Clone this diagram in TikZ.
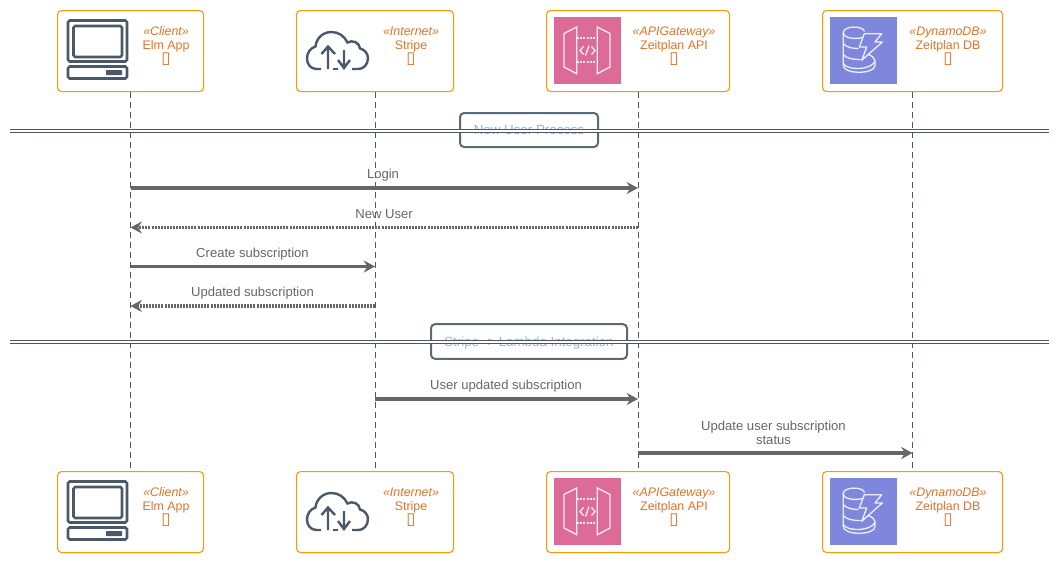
\documentclass[tikz,border=0pt]{standalone}
\usepackage{fontspec}
\setmainfont{Liberation Sans}
\newfontfamily\symfont{DejaVu Sans}
\usetikzlibrary{arrows.meta, positioning, calc}

\definecolor{boxorange}{HTML}{FF9900}
\definecolor{textorange}{HTML}{E07428}
\definecolor{iconslate}{HTML}{4A5868}
\definecolor{msggray}{HTML}{666666}
\definecolor{dividertext}{HTML}{A3B1C4}
\definecolor{gatewaypink}{HTML}{DD6B98}
\definecolor{dynamoblue}{HTML}{7F87DD}

\tikzset{
    icon/.style={draw=iconslate, line width=1.9pt, rounded corners=1.2pt},
    cloudline/.style={draw=iconslate, line width=1.8pt},
    iconwhite/.style={draw=white, line width=1pt, opacity=0.85},
    computericon/.pic={
        \draw[icon] (11,10.5) rectangle (70,51.5);
        \draw[icon] (16.5,16) rectangle (65,47);
        \draw[icon] (11,56.5) rectangle (70,68.5);
        \fill[iconslate, rounded corners=0.5] (49,60) rectangle (65,65);
    },
    cloudicon/.pic={
        \draw[cloudline] (25,59) -- (20.5,59) .. controls (14.5,59) and (11,54) .. (11,48.5)
            .. controls (11,42.5) and (14.5,38) .. (19.5,36.5) .. controls (20.5,27.5) and (27.5,22) .. (35.5,22)
            .. controls (42.5,22) and (48.5,26) .. (51.5,32.5) .. controls (56.5,29.5) and (63.5,32.5) .. (64,38.5)
            .. controls (68.5,39.5) and (72,43.5) .. (72,48) .. controls (72,54.5) and (67.5,59) .. (62.5,59) -- (56,59);
        \draw[cloudline] (37,59) -- (42,59);
        \draw[cloudline] (32,59) -- (32,36.5) (25.5,44) -- (32,36.5) -- (39,44);
        \draw[cloudline] (48,40) -- (48,58) (42,50) -- (48,58) -- (54,50);
    },
    gatewayicon/.pic={
        \fill[gatewaypink] (8,7) rectangle (75,74);
        \draw[iconwhite] (18,23.5) -- (30.7,17) -- (30.7,63.7) -- (18,57) -- cycle;
        \draw[iconwhite] (51.3,17) -- (64,23.5) -- (64,57) -- (51.3,63.7) -- cycle;
        \draw[iconwhite, dash pattern=on 1.5pt off 1pt] (30.7,28) -- (51.3,28) (30.7,52) -- (51.3,52);
        \draw[iconwhite] (37.5,36.5) -- (34,40.5) -- (37.5,44.5) (43,35.5) -- (39.5,45.5) (45.5,36.5) -- (49,40.5) -- (45.5,44.5);
    },
    dynamoicon/.pic={
        \fill[dynamoblue] (8,7) rectangle (75,74);
        \draw[iconwhite] (21.3,22.5) .. controls (21.3,15.5) and (41.5,15.5) .. (42.5,21.5)
            (21.3,22.5) .. controls (21.3,28.5) and (33.5,29.5) .. (40.5,27.5);
        \draw[iconwhite] (21.3,22.5) -- (21.3,55.5) (21.3,33.5) .. controls (24.5,37.5) and (30.5,38.5) .. (36.5,38.5)
            (21.3,44.5) .. controls (24.5,48.5) and (30.5,49.5) .. (38.5,49.5);
        \draw[iconwhite] (21.3,55.5) .. controls (21.3,64.5) and (53,64.5) .. (53,55.5) -- (53,50.5) .. controls (52.5,47.5) and (49.5,45.5) .. (46.5,44.5);
        \draw[iconwhite] (21.3,53.5) .. controls (24.5,60.5) and (48.5,60.5) .. (53,51.5);
        \draw[iconwhite, line join=round] (42.3,23.7) -- (59.7,23.7) -- (53,32) -- (60.3,32) -- (39.7,50.3) -- (44.7,37) -- (37.3,37) -- cycle;
    }
}

\begin{document}
\begin{tikzpicture}[x=0.75pt, y=-0.75pt,
    actor/.style={rectangle, draw=boxorange, fill=white, line width=0.8pt, rounded corners=3pt, minimum height=60.75pt},
    actor_text/.style={font=\fontsize{9.3}{10.6}\selectfont, text=textorange, align=center, inner sep=0pt},
    lifeline/.style={draw=iconslate, line width=0.6pt, dash pattern=on 4.5pt off 3pt},
    divider/.style={draw=iconslate, line width=0.75pt, double=white, double distance=1.4pt},
    divider_box/.style={rectangle, draw=iconslate!90, line width=1.5pt, rounded corners=3pt, text depth=0pt,
                        font=\fontsize{10}{11}\selectfont, text=dividertext},
    call/.style={draw=msggray, line width=2.6pt, -{Stealth[length=8.5pt, width=9pt, inset=2.8pt]}},
    reply/.style={call, dash pattern=on 1.5pt off 0.8pt},
    msg_text/.style={font=\fontsize{9.8}{10.6}\selectfont, text=msggray, align=center, inner sep=0pt}]

    \useasboundingbox (0,0) rectangle (1060,562);

    % lifelines need the boxes, so boxes first
    \foreach \name/\xpos/\wid/\txt/\kind/\title/\icon in {
        client/57/146/109/Client/Elm App/computericon,
        stripe/296/157/115/Internet/Stripe/cloudicon,
        api/546/183/128/APIGateway/Zeitplan API/gatewayicon,
        db/822/180/126/DynamoDB/Zeitplan DB/dynamoicon}{
        \foreach \row/\ypos in {top/10, bot/471}{
            \node[actor, minimum width=\wid*0.75pt, anchor=north west] (\name\row) at (\xpos,\ypos) {};
            \pic at (\name\row.north west) {\icon};
            \node[actor_text] (\name\row label) at ($(\name\row.north west)+(\txt,36)$)
                {\textit{«\kind»}\\\title\\{\symfont\fontsize{12.5}{10.6}\selectfont ▯}};
        }
    }

    \foreach \name in {client, stripe, api, db}
        \draw[lifeline] (\name top) -- (\name bot);

    % dividers
    \coordinate (divoneL) at (10,130.8);
    \coordinate (divoneR) at (1049,130.8);
    \coordinate (divtwoL) at (10,342.2);
    \coordinate (divtwoR) at (1049,342.2);
    \node[divider_box, minimum width=103.5pt, minimum height=25.5pt] (newuser) at (529,130) {New User Process\hspace{2.5pt}};
    \node[divider_box, minimum width=147pt, minimum height=26pt] (lambda) at (529,341.5) {Stripe -> Lambda Integration\hspace{2pt}};
    \draw[divider] (divoneL) -- (divoneR);
    \draw[divider] (divtwoL) -- (divtwoR);

    % messages
    \coordinate (login) at (0,188);
    \coordinate (newuserreply) at (0,227.5);
    \coordinate (create) at (0,266.5);
    \coordinate (updated) at (0,306);
    \coordinate (userupdated) at (0,399);
    \coordinate (updatestatus) at (0,453);

    \draw[call] (clienttop |- login) -- (apitop |- login);
    \draw[reply] (apitop |- newuserreply) -- (clienttop |- newuserreply);
    \draw[call] (clienttop |- create) -- (stripetop |- create);
    \draw[reply] (stripetop |- updated) -- (clienttop |- updated);
    \draw[call] (stripetop |- userupdated) -- (apitop |- userupdated);
    \draw[call] (apitop |- updatestatus) -- (dbtop |- updatestatus);

    \node[msg_text] (loginlabel) at (383,175) {Login};
    \node[msg_text] (newuserlabel) at (384,214.5) {New User};
    \node[msg_text] (createlabel) at (252.5,254) {Create subscription};
    \node[msg_text] (updatedlabel) at (252.5,293) {Updated subscription};
    \node[msg_text] (userupdatedlabel) at (506,386.5) {User updated subscription};
    \node[msg_text] (updatestatuslabel) at (773.5,432.5) {Update user subscription\\status};
\end{tikzpicture}
\end{document}
